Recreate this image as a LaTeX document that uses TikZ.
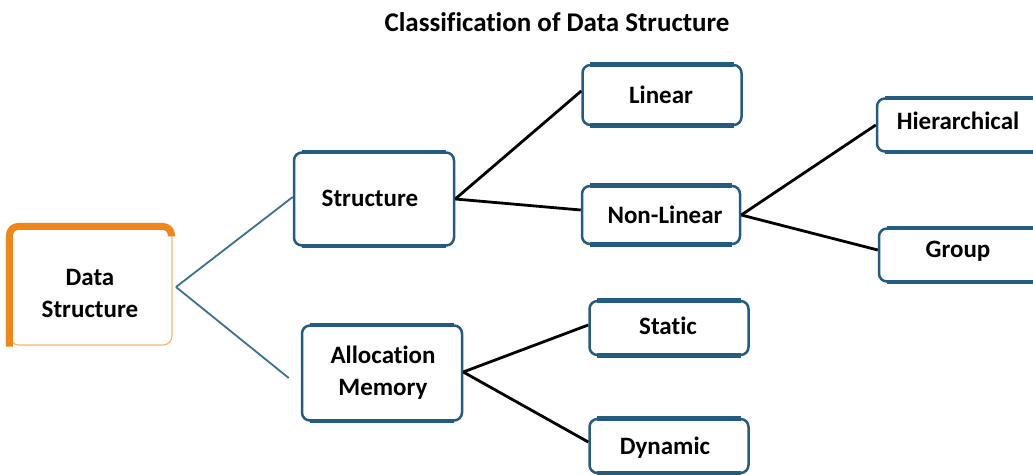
\documentclass[tikz,border=0pt]{standalone}
\usepackage{fontspec}
\setmainfont{Carlito}[Ligatures=CommonOff]
\definecolor{boxblue}{HTML}{245C80}
\definecolor{linkblue}{HTML}{3A7090}
\definecolor{dsorange}{HTML}{F08518}
\begin{document}
\begin{tikzpicture}[x=1pt,y=-1pt,
  label/.style={font=\fontsize{25}{32}\selectfont\bfseries, align=center, text=black},
  box/.style={draw=boxblue, line width=2.5pt, rounded corners=8pt, fill=white, inner sep=0pt},
  bar/.style={draw=boxblue, line width=4.5pt},
  tie/.style={draw=black, line width=2.8pt},
  bluetie/.style={draw=linkblue, line width=1.8pt}]
\useasboundingbox (0,0) rectangle (1033,474);
\clip (0,0) rectangle (1033,474);

% title
\node[font=\fontsize{27}{30}\selectfont\bfseries] (title) at (557,22) {Classification of Data Structure};

% root box with orange frame
\node[draw=dsorange!60, line width=1.2pt, rounded corners=9pt, fill=white,
      minimum width=162pt, minimum height=118pt, inner sep=0pt] (ds) at (91,286) {};
\draw[dsorange, line width=7pt, rounded corners=9pt]
  ([yshift=-1pt]ds.south west) -- (ds.north west) -- ([xshift=-1pt]ds.north east) -- ([xshift=-1pt,yshift=-10pt]ds.north east);
\node[label] (dstext) at (90,293) {Data\\Structure};

% category boxes
\node[box, minimum width=160pt, minimum height=93pt] (st) at (374,199) {};
\node[label] at (370,198) {Structure};
\node[box, minimum width=160pt, minimum height=95pt] (am) at (382,373) {};
\node[label] at (383,373) {Allocation\\Memory};

% leaf boxes
\node[box, minimum width=159pt, minimum height=60pt] (lin) at (662,95) {};
\node[label] at (661,95) {Linear};
\node[box, minimum width=158pt, minimum height=58pt] (nl) at (661,215) {};
\node[label] at (665,215) {Non-Linear};
\node[box, minimum width=170pt, minimum height=53pt] (hi) at (962,125) {};
\node[label] at (958,121) {Hierarchical};
\node[box, minimum width=168pt, minimum height=53pt] (gr) at (963,255) {};
\node[label] at (958,251) {Group};
\node[box, minimum width=159pt, minimum height=54pt] (sta) at (669,328) {};
\node[label] at (668,326) {Static};
\node[box, minimum width=159pt, minimum height=54pt] (dyn) at (669,446) {};
\node[label] at (665,448) {Dynamic};

% heavier top and bottom edges of the blue boxes
\foreach \n in {st,am,lin,nl,hi,gr,sta,dyn}{
  \draw[bar] ([xshift=9pt,yshift=-0.8pt]\n.north west) -- ([xshift=-9pt,yshift=-0.8pt]\n.north east);
  \draw[bar] ([xshift=9pt,yshift=0.8pt]\n.south west) -- ([xshift=-9pt,yshift=0.8pt]\n.south east);
}

% connectors
\coordinate (dsr) at (176,287);
\draw[bluetie] (dsr) -- ([yshift=2pt]st.west);
\draw[bluetie] (dsr) -- ([xshift=-12pt,yshift=-5pt]am.west);
\draw[tie] (st.east) -- ([yshift=4pt]lin.west);
\draw[tie] (st.east) -- ([yshift=5pt]nl.west);
\draw[tie] (nl.east) -- (hi.west);
\draw[tie] (nl.east) -- ([yshift=5pt]gr.west);
\draw[tie] ([yshift=1pt]am.east) -- ([yshift=3pt]sta.west);
\draw[tie] ([yshift=1pt]am.east) -- ([yshift=4pt]dyn.west);
\end{tikzpicture}
\end{document}
